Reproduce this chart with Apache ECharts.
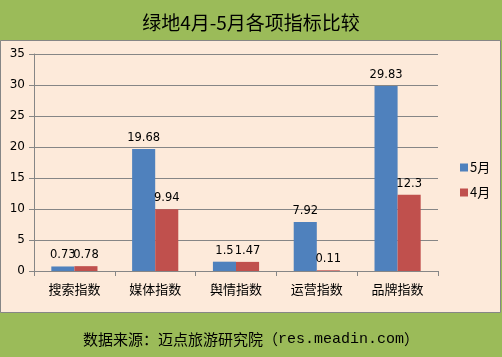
<!DOCTYPE html>
<html><head><meta charset="utf-8">
<script src="https://cdn.jsdelivr.net/npm/echarts@6/dist/echarts.min.js"></script>
<style>html,body{margin:0;padding:0;}#c{width:502px;height:357px;}</style>
</head><body><div id="c"></div>
<script>
var categories = ['搜索指数', '媒体指数', '舆情指数', '运营指数', '品牌指数'];
var may = [0.73, 19.68, 1.5, 7.92, 29.83];
var april = [0.78, 9.94, 1.47, 0.11, 12.3];
var seriesNames = ['5月', '4月'];
var yTicks = [0, 5, 10, 15, 20, 25, 30, 35];

var chart = echarts.init(document.getElementById('c'));
var cjk = '"Microsoft YaHei","Noto Sans CJK SC",sans-serif';
var lblStyle = {show: true, position: 'top', distance: 5, color: '#000', fontSize: 11.5, fontFamily: 'Verdana,"DejaVu Sans",sans-serif'};
chart.setOption({
  backgroundColor: '#9BBB59',
  animation: false,
  graphic: [
    {type: 'rect', z: -10, shape: {x: 0.5, y: 40.5, width: 500, height: 272}, style: {fill: '#FDEADA', stroke: '#868686', lineWidth: 1}}
  ],
  title: [
    {text: '绿地4月-5月各项指标比较', left: 'center', top: 8, textStyle: {fontSize: 19, fontWeight: 'normal', color: '#000', fontFamily: cjk}},
    {text: '{a|数据来源：迈点旅游研究院（}{b|res.meadin.com}{a|）}', left: 'center', top: 327,
     textStyle: {fontWeight: 'normal', rich: {a: {fontSize: 15, fontWeight: 'normal', color: '#000', fontFamily: cjk}, b: {fontSize: 15, fontWeight: 'normal', color: '#000', fontFamily: '"Liberation Mono","DejaVu Sans Mono",monospace'}}}}
  ],
  legend: {
    orient: 'vertical', left: 455, top: 156, itemWidth: 8, itemHeight: 8, itemGap: 12,
    icon: 'rect', data: seriesNames,
    textStyle: {fontSize: 13, color: '#000', fontFamily: cjk, padding: [0, 0, 0, -3]}
  },
  grid: {left: 34, right: 64, top: 54, bottom: 86},
  xAxis: {
    type: 'category', data: categories,
    axisLine: {lineStyle: {color: '#868686'}},
    axisTick: {show: true, length: 5, lineStyle: {color: '#868686'}},
    axisLabel: {color: '#000', fontSize: 13, fontFamily: cjk, margin: 12}
  },
  yAxis: {
    type: 'value', min: 0, max: 35, interval: 5,
    axisLine: {show: true, lineStyle: {color: '#868686'}},
    axisTick: {show: true, length: 5, inside: false, lineStyle: {color: '#868686'}},
    splitLine: {lineStyle: {color: '#868686'}},
    axisLabel: {color: '#000', fontSize: 12, fontFamily: 'Verdana,"DejaVu Sans",sans-serif', margin: 9,
      formatter: function (v) { return yTicks.indexOf(v) >= 0 ? String(v) : ''; }}
  },
  series: [
    {name: seriesNames[0], type: 'bar', data: may, barGap: '0%', barCategoryGap: '42.86%', itemStyle: {color: '#4F81BD'}, label: lblStyle},
    {name: seriesNames[1], type: 'bar', data: april, barGap: '0%', barCategoryGap: '42.86%', itemStyle: {color: '#C0504D'}, label: lblStyle}
  ]
});
</script></body></html>
